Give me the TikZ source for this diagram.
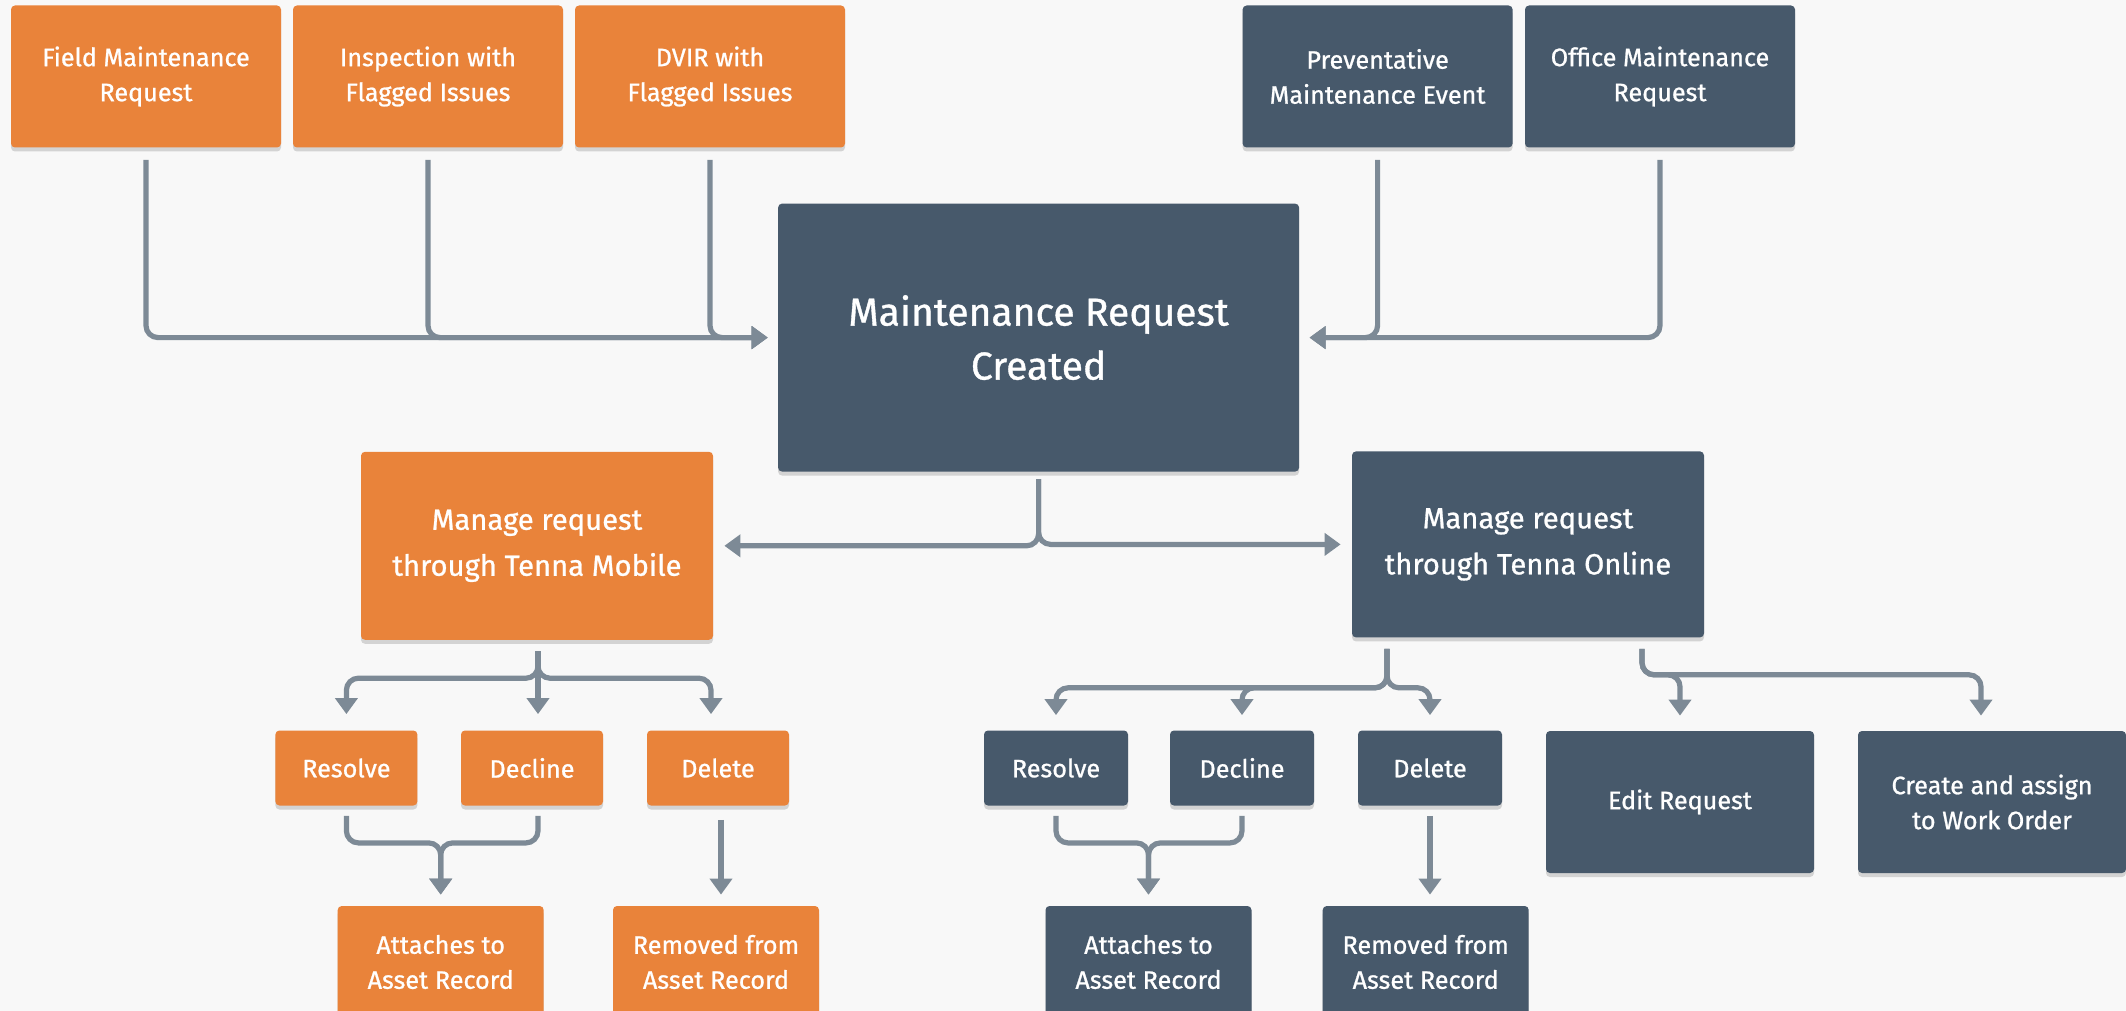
\documentclass[tikz,border=0pt]{standalone}
\usepackage{fontspec}
\setmainfont{Fira Sans}[UprightFeatures={FakeBold=0.9}]
\usetikzlibrary{arrows.meta,calc,shadows}
\definecolor{bg}{RGB}{248,248,248}
\definecolor{orangeC}{RGB}{233,131,58}
\definecolor{blueC}{RGB}{71,89,107}
\definecolor{lineC}{RGB}{125,138,150}
\tikzset{
 box/.style={rectangle, rounded corners=2pt, text=white, align=center, inner sep=0pt,
   drop shadow={shadow xshift=0pt, shadow yshift=-2pt, opacity=0.15, fill=black}},
 org/.style={box, fill=orangeC},
 blu/.style={box, fill=blueC},
 fsmall/.style={font=\fontsize{12.6}{17.5}\selectfont},
 fmid/.style={font=\fontsize{14.6}{23}\selectfont},
 fbig/.style={font=\fontsize{19.5}{27}\selectfont},
 topbox/.style={fsmall, minimum width=135pt, minimum height=71pt},
 actbox/.style={fsmall, minimum width=71pt, minimum height=37.5pt},
 resbox/.style={fsmall, minimum width=103pt, minimum height=56pt},
 widebox/.style={fsmall, minimum width=134pt, minimum height=71pt},
 conn/.style={draw=lineC, line width=2.6pt, rounded corners=6pt},
 arr/.style={conn, -{Triangle[length=8pt, width=11pt]}},
}
\begin{document}
\begin{tikzpicture}[x=0.5pt,y=-0.5pt]
\fill[bg] (0,0) rectangle (2126,1011);
\useasboundingbox (0,0) rectangle (2126,1011);
\begin{scope}
\clip (0,0) rectangle (2126,1011);
% top row
\node[org, topbox] (field) at (146,76.5) {Field Maintenance\\Request};
\node[org, topbox] (insp) at (428,76.5) {Inspection with\\Flagged Issues};
\node[org, topbox] (dvir) at (710,76.5) {DVIR with\\Flagged Issues};
\node[blu, topbox] (prev) at (1377.6,76.5) {Preventative\\Maintenance Event};
\node[blu, topbox] (office) at (1660,76.5) {Office Maintenance\\Request};
% main
\node[blu, fbig, minimum width=260.5pt, minimum height=134pt] (main) at (1038.6,337.6) {Maintenance Request\\Created};
% manage
\node[org, fmid, minimum width=176pt, minimum height=94pt] (mobile) at (537,545.8) {Manage request\\through Tenna Mobile};
\node[blu, fmid, minimum width=176pt, minimum height=93pt] (online) at (1528,544.4) {Manage request\\through Tenna Online};
% actions
\node[org, actbox] (ores) at (346.4,768) {Resolve};
\node[org, actbox] (odec) at (532,768) {Decline};
\node[org, actbox] (odel) at (718,768) {Delete};
\node[blu, actbox, minimum width=72pt] (bres) at (1056,768) {Resolve};
\node[blu, actbox, minimum width=72pt] (bdec) at (1242,768) {Decline};
\node[blu, actbox, minimum width=72pt] (bdel) at (1430,768) {Delete};
\node[blu, widebox] (edit) at (1680,802) {Edit Request};
\node[blu, widebox] (create) at (1992,802) {Create and assign\\to Work Order};
% results
\node[org, resbox] (oatt) at (440.7,962) {Attaches to\\Asset Record};
\node[org, resbox] (orem) at (716,962) {Removed from\\Asset Record};
\node[blu, resbox] (batt) at (1148.5,962) {Attaches to\\Asset Record};
\node[blu, resbox] (brem) at (1425.7,962) {Removed from\\Asset Record};

% top connectors
\draw[arr] ([yshift=-6pt]field.south) |- ([xshift=-5pt]main.west);
\draw[arr] ([yshift=-6pt]insp.south) |- ([xshift=-5pt]main.west);
\draw[arr] ([yshift=-6pt]dvir.south) |- ([xshift=-5pt]main.west);
\draw[arr] ([yshift=-6pt]prev.south) |- ([xshift=5pt]main.east);
\draw[arr] ([yshift=-6pt]office.south) |- ([xshift=5pt]main.east);
% main split
\draw[arr] ([yshift=-3.5pt]main.south) |- ([xshift=5.5pt]mobile.east);
\draw[arr] ([yshift=-3.5pt]main.south) |- ([xshift=-5.5pt]online.west);
% mobile split
\coordinate (mb) at ($(mobile.south)+(1,11)$);
\draw[arr] (mb) -- ++(0,27) -| ($(ores.north)+(0,-16)$);
\draw[arr] (mb) -- ($(mb |- odec.north)+(0,-16)$);
\draw[arr] (mb) -- ++(0,27) -| ($(odel.north)+(-7,-16)$);
% orange merges
\draw[arr] ($(ores.south)+(0,10)$) -- ++(0,27) -| ($(oatt.north)+(0,-11)$);
\draw[arr] ($(odec.south)+(6,10)$) -- ++(0,27) -| ($(oatt.north)+(0,-11)$);
\draw[arr] ($(odel.south)+(3,14)$) -- ($(odel.south |- orem.north)+(3,-11)$);
% online split
\coordinate (ob) at ($(online.south)+(-141,11)$);
\draw[arr] (ob) -- ++(0,39) -| ($(bres.north)+(0,-15)$);
\draw[arr] (ob) -- ++(0,39) -| ($(bdec.north)+(0,-15)$);
\draw[arr] (ob) -- ++(0,39) -| ($(bdel.north)+(0,-15)$);
\coordinate (oc) at ($(online.south)+(114,11)$);
\draw[arr] (oc) -- ++(0,26) -| ($(edit.north)+(0,-15)$);
\draw[arr] (oc) -- ++(0,26) -| ($(create.north)+(-11,-15)$);
% blue merges
\draw[arr] ($(bres.south)+(0,10)$) -- ++(0,27) -| ($(batt.north)+(0,-11)$);
\draw[arr] ($(bdec.south)+(0,10)$) -- ++(0,27) -| ($(batt.north)+(0,-11)$);
\draw[arr] ($(bdel.south)+(0,10)$) -- ($(bdel.south |- brem.north)+(0,-11)$);
\end{scope}
\end{tikzpicture}
\end{document}
